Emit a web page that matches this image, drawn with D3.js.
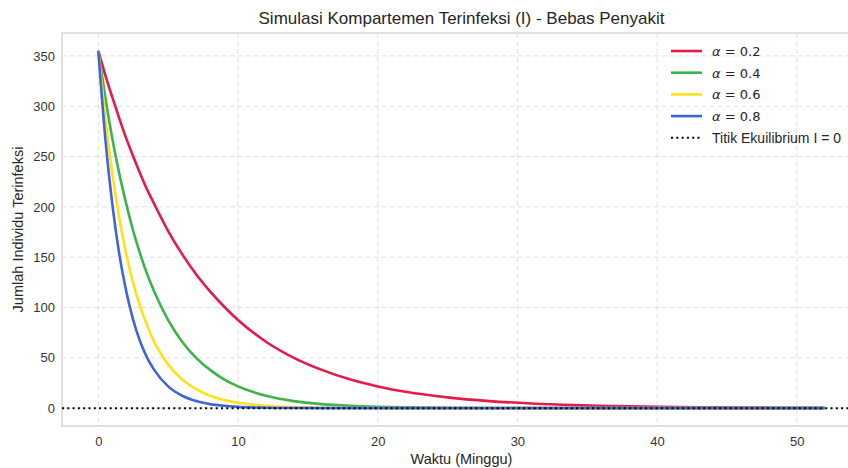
<!DOCTYPE html>
<html>
<head>
<meta charset="utf-8">
<script src="https://cdn.jsdelivr.net/npm/d3@7/dist/d3.min.js"></script>
<style>
  body { margin: 0; background: #fff; }
  svg { display: block; font-family: "Liberation Sans", Arial, sans-serif; }
</style>
</head>
<body>
<svg id="chart" width="848" height="468"></svg>
<script>
// weeks
const weeks = [0, 0.5, 1, 1.5, 2, 2.5, 3, 3.5, 4, 5, 6, 7, 8, 9, 10, 12, 14, 16, 18, 20, 22, 25, 28, 31, 34, 37, 40, 43, 46, 49, 52];

const infAlpha02 = [355, 331, 309, 288, 268, 250, 233, 217, 203, 176, 153, 133, 116, 101, 87.5, 66, 50, 38, 28.6, 21.6, 16.3, 10.7, 7, 4.6, 3, 2, 1.3, 0.9, 0.6, 0.4, 0.25];
const infAlpha04 = [355, 309, 268, 233, 203, 176, 153, 133, 116, 87.5, 66, 50, 38, 28.6, 21.6, 12.3, 7, 4, 2.3, 1.3, 0.75, 0.3, 0.1, 0.05, 0, 0, 0, 0, 0, 0, 0];
const infAlpha06 = [355, 288, 233, 189, 153, 124, 101, 82, 66, 43.5, 28.6, 18.8, 12.3, 8.1, 5.3, 2.3, 1, 0.43, 0.19, 0.08, 0, 0, 0, 0, 0, 0, 0, 0, 0, 0, 0];
const infAlpha08 = [355, 268, 203, 153, 116, 87.5, 66, 50, 38, 21.6, 12.3, 7, 4, 2.3, 1.3, 0.43, 0.14, 0.05, 0, 0, 0, 0, 0, 0, 0, 0, 0, 0, 0, 0, 0];

const seriesNames = ['0.2', '0.4', '0.6', '0.8'];
const seriesValues = [infAlpha02, infAlpha04, infAlpha06, infAlpha08];
const seriesColors = ['#e6194b', '#3cb44b', '#ffe119', '#4363d8'];

const xTicks = [0, 10, 20, 30, 40, 50];
const yTicks = [0, 50, 100, 150, 200, 250, 300, 350];
const equilibrium = 0;

/* frame settings */
const width = 848;
const height = 468;
const margin = { top: 33, right: -13, bottom: 42, left: 62 };

const svg = d3.select('#chart');

// mpl-style 5% padding around the data
const xMin = 0, xMax = 52;
const xPad = (xMax - xMin) * 0.05;
const yMax = d3.max(seriesValues, s => d3.max(s));
const yPad = yMax * 0.05;

const xScale = d3.scaleLinear()
  .domain([xMin - xPad, xMax + xPad])
  .range([margin.left, width - margin.right]);
const yScale = d3.scaleLinear()
  .domain([-yPad, yMax + yPad])
  .range([height - margin.bottom, margin.top]);

const plot = svg.append('g');

/* Grid */
plot.append('g')
  .selectAll('line')
  .data(yTicks)
  .enter()
  .append('line')
  .attr('x1', margin.left)
  .attr('x2', width - margin.right)
  .attr('y1', d => yScale(d))
  .attr('y2', d => yScale(d))
  .attr('stroke', '#dedede')
  .attr('stroke-width', 0.9)
  .attr('stroke-dasharray', '5,3');

plot.append('g')
  .selectAll('line')
  .data(xTicks)
  .enter()
  .append('line')
  .attr('x1', d => xScale(d))
  .attr('x2', d => xScale(d))
  .attr('y1', margin.top)
  .attr('y2', height - margin.bottom)
  .attr('stroke', '#dedede')
  .attr('stroke-width', 0.9)
  .attr('stroke-dasharray', '5,3');

/* Frame */
plot.append('rect')
  .attr('x', margin.left)
  .attr('y', margin.top)
  .attr('width', width - margin.right - margin.left)
  .attr('height', height - margin.bottom - margin.top)
  .attr('fill', 'none')
  .attr('stroke', '#d0d0d0')
  .attr('stroke-width', 1.3);

/* Axes */
const xAxis = d3.axisBottom(xScale).tickValues(xTicks).tickSize(0).tickPadding(11);
const yAxis = d3.axisLeft(yScale).tickValues(yTicks).tickSize(0).tickPadding(7);

const xAxisG = plot.append('g')
  .attr('transform', `translate(0, ${height - margin.bottom})`)
  .call(xAxis);
const yAxisG = plot.append('g')
  .attr('transform', `translate(${margin.left}, 0)`)
  .call(yAxis);
[xAxisG, yAxisG].forEach(g => {
  g.select('.domain').remove();
  g.selectAll('text')
    .attr('font-family', '"Liberation Sans", Arial, sans-serif')
    .attr('font-size', 13)
    .attr('fill', '#333');
});

/* Lines */
const line = d3.line()
  .x((d, i) => xScale(weeks[i]))
  .y(d => yScale(d))
  .curve(d3.curveMonotoneX);

plot.append('g')
  .selectAll('path')
  .data(seriesValues)
  .enter()
  .append('path')
  .attr('d', d => line(d))
  .attr('fill', 'none')
  .attr('stroke', (d, i) => seriesColors[i])
  .attr('stroke-width', 2.6)
  .attr('stroke-linejoin', 'round');

/* Equilibrium line */
plot.append('line')
  .attr('x1', margin.left)
  .attr('x2', width - margin.right)
  .attr('y1', yScale(equilibrium))
  .attr('y2', yScale(equilibrium))
  .attr('stroke', '#000')
  .attr('stroke-width', 2)
  .attr('stroke-dasharray', '2,3.3');

/* Titles */
svg.append('text')
  .attr('x', (margin.left + width - margin.right) / 2)
  .attr('y', 24)
  .attr('text-anchor', 'middle')
  .attr('font-size', 17)
  .attr('fill', '#262626')
  .text('Simulasi Kompartemen Terinfeksi (I) - Bebas Penyakit');

svg.append('text')
  .attr('x', (margin.left + width - margin.right) / 2)
  .attr('y', 464)
  .attr('text-anchor', 'middle')
  .attr('font-size', 14.5)
  .attr('fill', '#262626')
  .text('Waktu (Minggu)');

svg.append('text')
  .attr('transform', `translate(23, ${(margin.top + height - margin.bottom) / 2}) rotate(-90)`)
  .attr('text-anchor', 'middle')
  .attr('font-size', 14.5)
  .attr('fill', '#262626')
  .text('Jumlah Individu Terinfeksi');

/* Legend */
const legend = svg.append('g').attr('transform', 'translate(671, 51)');
const rowH = 21.7;

seriesNames.forEach((name, i) => {
  const row = legend.append('g').attr('transform', `translate(0, ${i * rowH})`);
  row.append('line')
    .attr('x1', 0).attr('x2', 31)
    .attr('stroke', seriesColors[i])
    .attr('stroke-width', 2.6);
  const t = row.append('text')
    .attr('x', 41)
    .attr('y', 5)
    .attr('font-family', '"DejaVu Sans", sans-serif')
    .attr('font-size', 13)
    .attr('fill', '#262626');
  t.append('tspan').attr('font-style', 'italic').text('α');
  t.append('tspan').text(' = ' + name);
});

const eqRow = legend.append('g').attr('transform', `translate(0, ${4 * rowH})`);
eqRow.append('line')
  .attr('x1', 0).attr('x2', 31)
  .attr('stroke', '#000')
  .attr('stroke-width', 2)
  .attr('stroke-dasharray', '2,3.3');
eqRow.append('text')
  .attr('x', 41)
  .attr('y', 5)
  .attr('font-size', 14)
  .attr('fill', '#262626')
  .text('Titik Ekuilibrium I = 0');
</script>
</body>
</html>
